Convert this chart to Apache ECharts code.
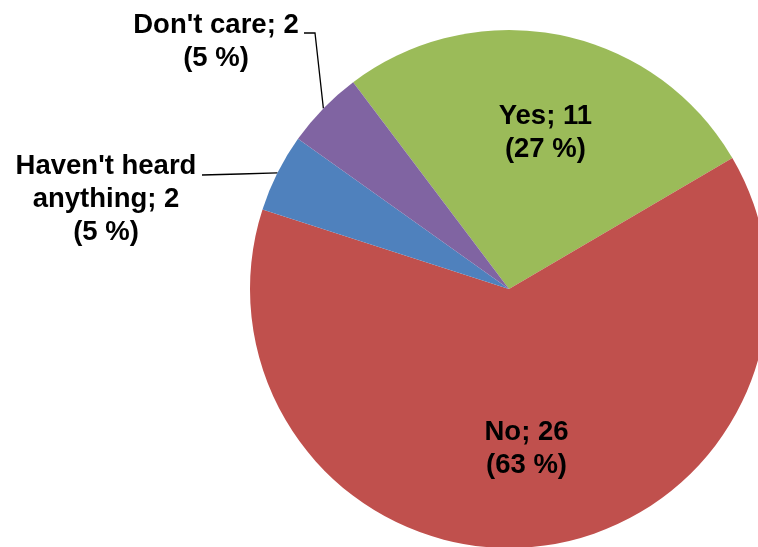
<!DOCTYPE html>
<html>
<head>
<meta charset="utf-8">
<script src="https://cdn.jsdelivr.net/npm/echarts@6/dist/echarts.min.js"></script>
<style>
  html, body { margin: 0; padding: 0; background: #ffffff; }
  #chart { width: 758px; height: 547px; }
</style>
</head>
<body>
<div id="chart"></div>
<script>
// Survey answers and their counts
const categories = ["Yes", "No", "Haven't heard anything", "Don't care"];
const labelNames = ["Yes", "No", "Haven't heard\nanything", "Don't care"];
const counts = [11, 26, 2, 2];
const colors = ['#9BBB59', '#C0504D', '#4F81BD', '#8064A2'];

const CX = 509, CY = 289, R = 259;
const START = 127;           // degrees, ECharts convention (counter-clockwise from 3 o'clock)
const total = counts.reduce((a, b) => a + b, 0);

// mid angle of each slice, measured clockwise from 12 o'clock
function midAngle(i) {
  let acc = 0;
  for (let k = 0; k < i; k++) acc += counts[k];
  const startFromTop = 90 - START;
  return startFromTop + 360 * (acc + counts[i] / 2) / total;
}
function polar(angleDeg, r) {
  const a = angleDeg * Math.PI / 180;
  return [CX + r * Math.sin(a), CY - r * Math.cos(a)];
}

const chart = echarts.init(document.getElementById('chart'), null, { renderer: 'canvas' });

chart.setOption({
  animation: false,
  color: colors,
  series: [{
    type: 'pie',
    center: [CX, CY],
    radius: R,
    startAngle: START,
    clockwise: true,
    avoidLabelOverlap: false,
    itemStyle: { borderWidth: 0 },
    label: {
      show: true,
      position: 'outside',
      formatter: p => labelNames[p.dataIndex] + '; ' + p.value + '\n(' + Math.round(p.percent) + ' %)',
      fontFamily: 'Liberation Sans, Arial, sans-serif',
      fontWeight: 'bold',
      fontSize: 27.5,
      lineHeight: 33,
      color: '#000000',
      align: 'center'
    },
    labelLine: {
      show: true,
      lineStyle: { color: '#000000', width: 1.3 }
    },
    labelLayout: function (params) {
      const i = params.dataIndex;
      const edge = polar(midAngle(i), R);
      if (i === 0 || i === 1) {
        // large slices: label sits inside, a bit past mid-radius
        const p = polar(midAngle(i) + (i === 0 ? 1.8 : 0), R * 0.62);
        return { x: p[0], y: p[1], align: 'center', verticalAlign: 'middle', labelLinePoints: [edge, edge, edge] };
      }
      if (i === 3) {
        return {
          x: 216, y: 42, align: 'center', verticalAlign: 'middle',
          labelLinePoints: [edge, [315, 33], [304, 33]]
        };
      }
      return {
        x: 106, y: 199, align: 'center', verticalAlign: 'middle',
        labelLinePoints: [edge, [240, 174], [202, 175]]
      };
    },
    data: categories.map((c, i) => ({
      name: c,
      value: counts[i],
      labelLine: { show: i >= 2 }
    }))
  }]
});
</script>
</body>
</html>
